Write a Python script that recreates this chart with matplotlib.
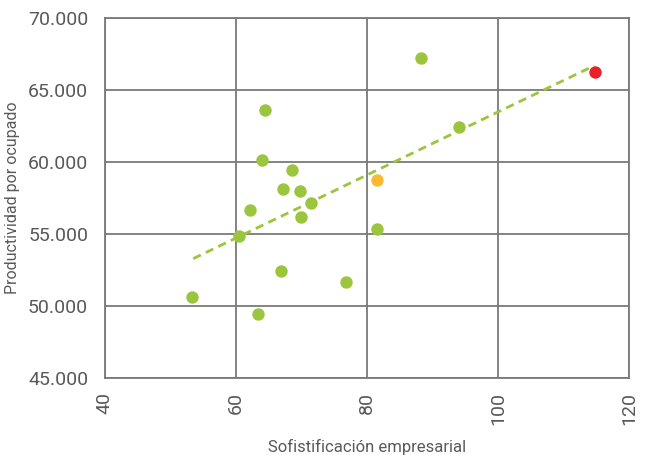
import matplotlib
matplotlib.use('Agg')
import matplotlib.pyplot as plt
from matplotlib.ticker import FuncFormatter

# ── Data ──
x_green = [53.3, 60.5, 62.1, 63.4, 64.0, 64.4, 66.9, 67.2, 68.5, 69.8, 69.9,
           71.5, 76.8, 81.5, 88.2, 94.0]
y_green = [50625, 54860, 56670, 49440, 60140, 63610, 52430, 58125, 59440,
           57990, 56180, 57150, 51670, 55350, 67220, 62430]
x_orange = [81.5]
y_orange = [58750]
x_red = [114.8]
y_red = [66250]
trend_x = [53.5, 114.7]
trend_y = [53300, 66700]

GREEN = "#9BC53D"
ORANGE = "#FBB92F"
RED = "#E8202A"
GRID = "#7a7a7a"
TXT = "#595959"

plt.rcParams['font.family'] = ['Roboto', 'DejaVu Sans']

fig = plt.figure(figsize=(6.51, 4.55), dpi=100)
ax = fig.add_axes([0.161, 0.169, 0.805, 0.791])

ax.plot(trend_x, trend_y, color=GREEN, linestyle=(0, (3, 2)), linewidth=2, zorder=2)
ax.scatter(x_green, y_green, s=80, color=GREEN, zorder=3, linewidths=0)
ax.scatter(x_orange, y_orange, s=80, color=ORANGE, zorder=3, linewidths=0)
ax.scatter(x_red, y_red, s=80, color=RED, zorder=3, linewidths=0)

ax.set_xlim(40, 120)
ax.set_ylim(45000, 70000)
ax.set_xticks([40, 60, 80, 100, 120])
ax.set_yticks(range(45000, 70001, 5000))
ax.yaxis.set_major_formatter(FuncFormatter(lambda v, p: f"{int(v):,}".replace(",", ".")))
ax.tick_params(axis='x', labelrotation=90, length=0, pad=10, labelsize=14, colors=TXT)
ax.tick_params(axis='y', length=0, pad=12, labelsize=14, colors=TXT)
ax.grid(True, color=GRID, linewidth=1.3)
ax.set_axisbelow(True)
for s in ax.spines.values():
    s.set_color(GRID)
    s.set_linewidth(1.3)

ax.set_xlabel("Sofistificación empresarial", fontsize=12, color=TXT, labelpad=10)
ax.set_ylabel("Productividad por ocupado", fontsize=11.5, color=TXT, labelpad=6)

plt.savefig("out.png", dpi=100)
plt.close()
